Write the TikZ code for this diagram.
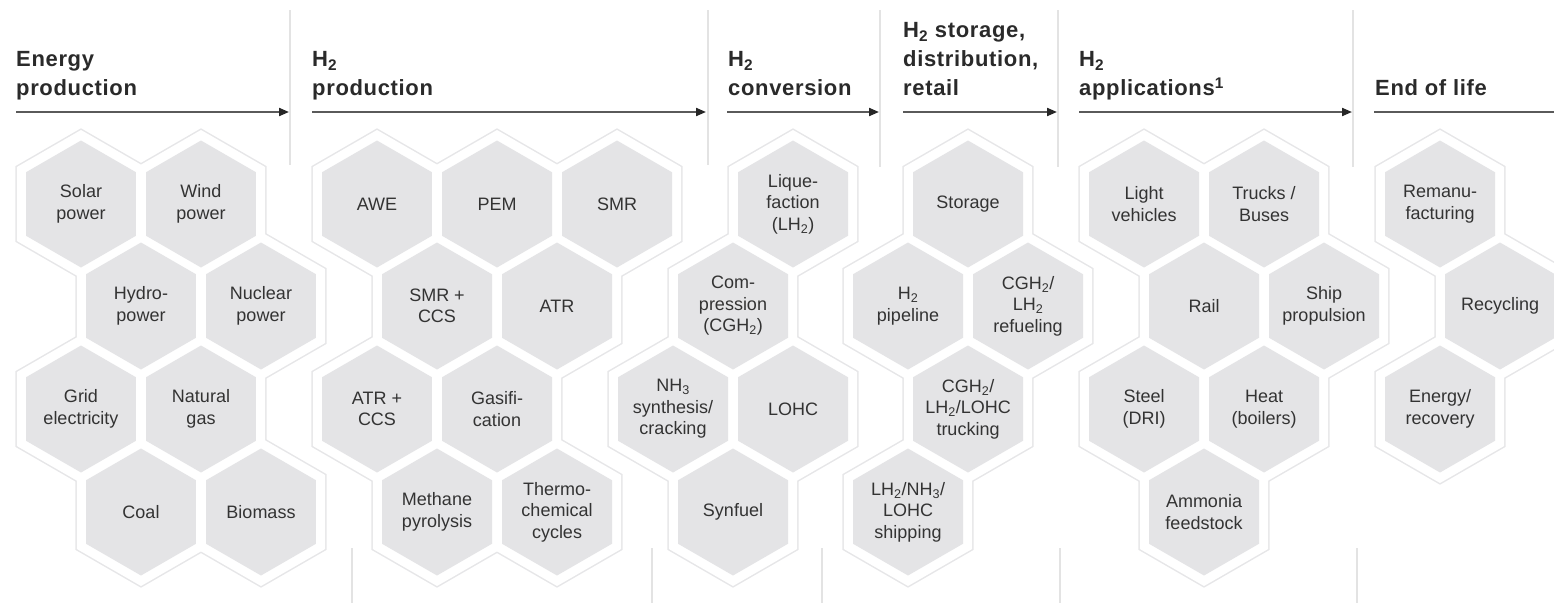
\documentclass[tikz,border=0pt]{standalone}
\usepackage{fontspec}
\setmainfont{Liberation Sans}
\usepackage{xcolor}
\usepackage{tikz}
\usetikzlibrary{arrows.meta,shapes.geometric}
\definecolor{HexFill}{HTML}{E4E4E6}
\definecolor{HaloLine}{HTML}{E6E6E8}
\definecolor{Ink}{HTML}{333333}
\definecolor{HdrInk}{HTML}{2A2A2A}
\definecolor{Rule}{HTML}{E3E3E3}
\definecolor{ArrGray}{HTML}{5A5A5A}
\pgfdeclarelayer{haloline}
\pgfdeclarelayer{halofill}
\pgfsetlayers{haloline,halofill,main}

\begin{document}
\begin{tikzpicture}[x=1pt, y=-1pt,
  hexa/.style={regular polygon, regular polygon sides=6, shape border rotate=30,
               minimum size=127pt, inner sep=-10pt, fill=HexFill, text=Ink,
               align=center, font=\fontsize{18}{21.5}\selectfont},
  halo/.style={regular polygon, regular polygon sides=6, shape border rotate=30,
               minimum size=148pt, inner sep=0pt, draw=HaloLine, line width=3pt},
  halofill/.style={regular polygon, regular polygon sides=6, shape border rotate=30,
               minimum size=148pt, inner sep=0pt, fill=white},
  hdr/.style={anchor=south west, inner sep=0pt, text depth=0pt, align=left,
              text=HdrInk, font=\fontsize{22}{29}\selectfont\bfseries\addfontfeatures{LetterSpace=3}},
  divider/.style={draw=Rule, line width=2pt},
  arr/.style={-{Triangle[length=10pt,width=8pt,color=black!85]}, line width=2pt, draw=ArrGray}
]
\useasboundingbox (0,0) rectangle (1554,603);

% stage headers
\node[hdr] (h1) at (16,96)   {Energy\\production};
\node[hdr] (h2) at (312,96)  {H\textsubscript{2}\\production};
\node[hdr] (h3) at (728,96)  {H\textsubscript{2}\\conversion};
\node[hdr] (h4) at (903,96)  {H\textsubscript{2} storage,\\distribution,\\retail};
\node[hdr] (h5) at (1079,96) {H\textsubscript{2}\\applications\textsuperscript{1}};
\node[hdr] (h6) at (1375,96) {End of life};

\coordinate (a1) at (16,112);   \coordinate (b1) at (289,112);
\coordinate (a2) at (312,112);  \coordinate (b2) at (706,112);
\coordinate (a3) at (727,112);  \coordinate (b3) at (879,112);
\coordinate (a4) at (903,112);  \coordinate (b4) at (1057,112);
\coordinate (a5) at (1079,112); \coordinate (b5) at (1352,112);
\coordinate (a6) at (1374,112); \coordinate (b6) at (1554,112);

\draw[arr] (a1) -- (b1);
\draw[arr] (a2) -- (b2);
\draw[arr] (a3) -- (b3);
\draw[arr] (a4) -- (b4);
\draw[arr] (a5) -- (b5);
\draw[ArrGray, line width=2pt] (a6) -- (b6);

\draw[divider] (290,10) -- (290,165);
\draw[divider] (708,10) -- (708,165);
\draw[divider] (880,10) -- (880,167);
\draw[divider] (1058,10) -- (1058,167);
\draw[divider] (1353,10) -- (1353,167);
\draw[divider] (352,548) -- (352,603);
\draw[divider] (652,548) -- (652,603);
\draw[divider] (822,548) -- (822,603);
\draw[divider] (1060,548) -- (1060,603);
\draw[divider] (1357,548) -- (1357,603);

% energy production
\node[hexa] (solar)   at (81,204)  {Solar\\power};
\node[hexa] (wind)    at (201,204) {Wind\\power};
\node[hexa] (hydro)   at (141,306) {Hydro-\\power};
\node[hexa] (nuclear) at (261,306) {Nuclear\\power};
\node[hexa] (grid)    at (81,409)  {Grid\\electricity};
\node[hexa] (gas)     at (201,409) {Natural\\gas};
\node[hexa] (coal)    at (141,512) {Coal};
\node[hexa] (biomass) at (261,512) {Biomass};

% H2 production
\node[hexa] (awe)    at (377,204) {AWE};
\node[hexa] (pem)    at (497,204) {PEM};
\node[hexa] (smr)    at (617,204) {SMR};
\node[hexa] (smrccs) at (437,306) {SMR +\\CCS};
\node[hexa] (atr)    at (557,306) {ATR};
\node[hexa] (atrccs) at (377,409) {ATR +\\CCS};
\node[hexa] (gasif)  at (497,409) {Gasifi-\\cation};
\node[hexa] (pyro)   at (437,512) {Methane\\pyrolysis};
\node[hexa] (thermo) at (557,512) {Thermo-\\chemical\\cycles};

% H2 conversion
\node[hexa] (liq)     at (793,204) {Lique-\\faction\\(LH\textsubscript{2})};
\node[hexa] (comp)    at (733,306) {Com-\\pression\\(CGH\textsubscript{2})};
\node[hexa] (nh3)     at (673,409) {NH\textsubscript{3}\\synthesis/\\cracking};
\node[hexa] (lohc)    at (793,409) {LOHC};
\node[hexa] (synfuel) at (733,512) {Synfuel};

% H2 storage, distribution, retail
\node[hexa] (storage)  at (968,204)  {Storage};
\node[hexa] (pipeline) at (908,306)  {H\textsubscript{2}\\pipeline};
\node[hexa] (refuel)   at (1028,306) {CGH\textsubscript{2}/\\LH\textsubscript{2}\\refueling};
\node[hexa] (trucking) at (968,409)  {CGH\textsubscript{2}/\\LH\textsubscript{2}/LOHC\\trucking};
\node[hexa] (shipping) at (908,512)  {LH\textsubscript{2}/NH\textsubscript{3}/\\LOHC\\shipping};

% H2 applications
\node[hexa] (lightveh) at (1144,204) {Light\\vehicles};
\node[hexa] (trucks)   at (1264,204) {Trucks /\\Buses};
\node[hexa] (rail)     at (1204,306) {Rail};
\node[hexa] (ship)     at (1324,306) {Ship\\propulsion};
\node[hexa] (steel)    at (1144,409) {Steel\\(DRI)};
\node[hexa] (heat)     at (1264,409) {Heat\\(boilers)};
\node[hexa] (ammonia)  at (1204,512) {Ammonia\\feedstock};

% end of life
\node[hexa] (reman)  at (1440,204) {Remanu-\\facturing};
\node[hexa] (recycl) at (1500,306) {Recycling};
\node[hexa] (recov)  at (1440,409) {Energy/\\recovery};

% white rims behind the cells
\begin{pgfonlayer}{haloline}
\foreach \n in {solar,wind,hydro,nuclear,grid,gas,coal,biomass,
                awe,pem,smr,smrccs,atr,atrccs,gasif,pyro,thermo,
                liq,comp,nh3,lohc,synfuel,storage,pipeline,refuel,trucking,shipping,
                lightveh,trucks,rail,ship,steel,heat,ammonia,reman,recycl,recov}
  \node[halo] (hl-\n) at (\n) {};
\end{pgfonlayer}
\begin{pgfonlayer}{halofill}
\foreach \n in {solar,wind,hydro,nuclear,grid,gas,coal,biomass,
                awe,pem,smr,smrccs,atr,atrccs,gasif,pyro,thermo,
                liq,comp,nh3,lohc,synfuel,storage,pipeline,refuel,trucking,shipping,
                lightveh,trucks,rail,ship,steel,heat,ammonia,reman,recycl,recov}
  \node[halofill] (hf-\n) at (\n) {};
\end{pgfonlayer}
\end{tikzpicture}
\end{document}
